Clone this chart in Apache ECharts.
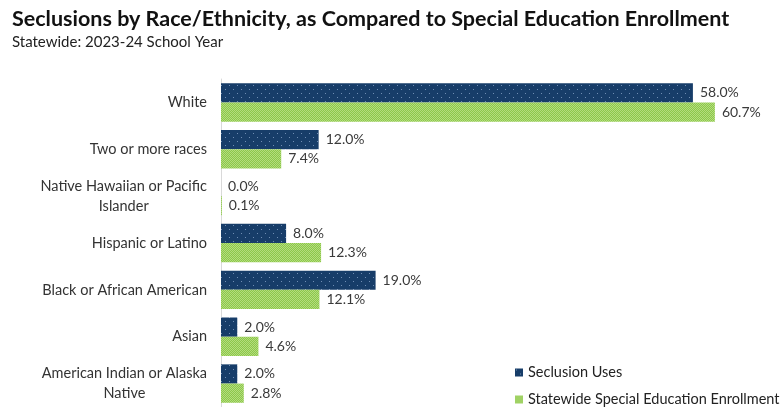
<!DOCTYPE html>
<html><head><meta charset="utf-8">
<script src="https://cdn.jsdelivr.net/npm/echarts@6/dist/echarts.min.js"></script>
<style>html,body{margin:0;padding:0;background:#fff}#c{width:781px;height:407px}</style>
</head><body><div id="c"></div>
<script>
const categories = ['White','Two or more races','Native Hawaiian or Pacific\nIslander','Hispanic or Latino','Black or African American','Asian','American Indian or Alaska\nNative'];
const seclusionUses = [58.0, 12.0, 0.0, 8.0, 19.0, 2.0, 2.0];
const enrollment = [60.7, 7.4, 0.1, 12.3, 12.1, 4.6, 2.8];
const seriesNames = ['Seclusion Uses','Statewide Special Education Enrollment'];

const FONT = 'Lato';
function navyPattern(){
  const c=document.createElement('canvas');c.width=8;c.height=8;const g=c.getContext('2d');
  g.fillStyle='#173d69';g.fillRect(0,0,8,8);
  g.fillStyle='#6f8db3';g.fillRect(1,1,1,1);g.fillRect(5,5,1,1);
  return c;
}
function greenPattern(){
  const c=document.createElement('canvas');c.width=2;c.height=2;const g=c.getContext('2d');
  g.fillStyle='#8cc84a';g.fillRect(0,0,2,2);
  g.fillStyle='#b4dc7e';g.fillRect(0,0,1,1);g.fillRect(1,1,1,1);
  return c;
}
const navy={image:navyPattern(),repeat:'repeat'};
const green={image:greenPattern(),repeat:'repeat'};

const chart=echarts.init(document.getElementById('c'),null,{renderer:'canvas'});
const lbl={show:true,position:'right',distance:7,color:'#3a3a3a',fontSize:14,fontFamily:FONT,formatter:p=>p.value.toFixed(1)+'%'};
const legendText={fontSize:14.5,color:'#222',fontFamily:FONT};
chart.setOption({
  animation:false,
  textStyle:{fontFamily:FONT},
  title:{text:'Seclusions by Race/Ethnicity, as Compared to Special Education Enrollment',
    subtext:'Statewide: 2023-24 School Year',left:7,top:3,itemGap:5,
    textStyle:{fontSize:21.5,fontWeight:'bold',color:'#111',fontFamily:FONT},
    subtextStyle:{fontSize:15,color:'#222',fontFamily:FONT}},
  legend:[
    {left:510,top:360,itemWidth:8,itemHeight:8,itemGap:6,textStyle:legendText,
     data:[{name:seriesNames[0],icon:'rect',itemStyle:{color:navy}}]},
    {left:510,top:387,itemWidth:8,itemHeight:8,itemGap:6,textStyle:legendText,
     data:[{name:seriesNames[1],icon:'rect',itemStyle:{color:green}}]}
  ],
  grid:{left:221,right:23,top:79,height:333,containLabel:false},
  xAxis:{type:'value',min:0,max:66,show:false},
  yAxis:{type:'category',inverse:true,data:categories,
    axisLine:{show:true,lineStyle:{color:'#d9d9d9'}},axisTick:{show:false},
    axisLabel:{margin:14,color:'#333',fontSize:14.5,fontFamily:FONT,
      formatter:v=>v.split('\n').map(s=>'{c|'+s+'}').join('\n'),
      rich:{c:{align:'center',fontSize:14.5,color:'#333',fontFamily:FONT,lineHeight:20}}}},
  series:[
    {name:seriesNames[0],type:'bar',data:seclusionUses,barGap:'0%',barCategoryGap:'18%',itemStyle:{color:navy},label:lbl},
    {name:seriesNames[1],type:'bar',data:enrollment,barGap:'0%',barCategoryGap:'18%',itemStyle:{color:green},label:lbl}
  ]
});
</script></body></html>
